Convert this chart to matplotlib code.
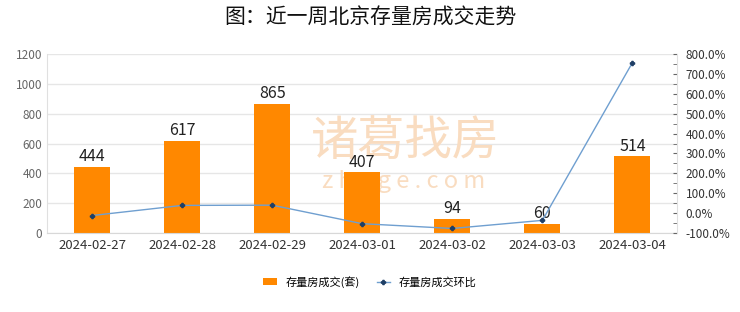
import matplotlib.pyplot as plt
from matplotlib.ticker import FuncFormatter, MultipleLocator

plt.rcParams['font.family'] = ['Noto Sans CJK SC', 'DejaVu Sans']

dates = ['2024-02-27', '2024-02-28', '2024-02-29', '2024-03-01',
         '2024-03-02', '2024-03-03', '2024-03-04']
deals = [444, 617, 865, 407, 94, 60, 514]
# day-on-day change, percent
change = [-12.0, 39.0, 40.2, -52.9, -76.9, -36.2, 756.7]

bar_color = '#ff8800'
line_color = '#6f9fd0'

fig = plt.figure(figsize=(7.4, 3.12), dpi=100)
ax = fig.add_axes([0.0635, 0.253, 0.852, 0.574])
ax2 = ax.twinx()

x = list(range(len(dates)))
ax.bar(x, deals, width=0.4, color=bar_color, zorder=2, label='存量房成交(套)')
for xi, v in zip(x, deals):
    ax.text(xi, v + 12, str(v), ha='center', va='bottom', fontsize=11.5,
            color='#222222', zorder=5)

ax.set_ylim(0, 1200)
ax.set_yticks(range(0, 1201, 200))
ax.set_xlim(-0.5, len(dates) - 0.5)
ax.set_xticks(x)
ax.set_xticklabels(dates, fontsize=9.5, color='#333333')
ax.tick_params(axis='y', labelsize=8.5, labelcolor='#666666', length=0)
ax.tick_params(axis='x', length=0, pad=4)
ax.grid(axis='y', color='#e6e6e6', linewidth=1, zorder=0)
ax.set_axisbelow(True)
for s in ['top', 'right']:
    ax.spines[s].set_visible(False)
ax.spines['left'].set_color('#e0e0e0')
ax.spines['bottom'].set_color('#d8d8d8')

ax2.plot(x, change, color=line_color, linewidth=1, marker='P', markersize=3,
         markerfacecolor='#1f3f66', markeredgecolor='#1f3f66', zorder=4,
         label='存量房成交环比')
ax2.set_ylim(-100, 800)
ax2.yaxis.set_major_locator(MultipleLocator(100))
ax2.yaxis.set_minor_locator(MultipleLocator(50))
ax2.yaxis.set_major_formatter(FuncFormatter(lambda v, p: f'{v:.1f}%'))
ax2.tick_params(axis='y', which='both', direction='in', labelsize=8.5,
                labelcolor='#333333', color='#666666', length=3, pad=6)
for s in ['top', 'left', 'bottom']:
    ax2.spines[s].set_visible(False)
ax2.spines['right'].set_color('#e0e0e0')

# watermark
wm = '#f9dcc0'
ax.text(0.568, 0.51, '诸葛找房', transform=ax.transAxes, ha='center', va='center',
        fontsize=34, color=wm, zorder=1)
ax.text(0.565, 0.29, 'z h u g e . c o m', transform=ax.transAxes, ha='center',
        va='center', fontsize=17, color=wm, zorder=1)

fig.suptitle('图：近一周北京存量房成交走势', fontsize=15, fontweight='medium',
             y=0.98, color='#111111')

h1, l1 = ax.get_legend_handles_labels()
h2, l2 = ax2.get_legend_handles_labels()
fig.legend(h1 + h2, l1 + l2, loc='center', bbox_to_anchor=(0.5, 0.096), ncol=2,
           frameon=False, fontsize=8, handlelength=1.2, handleheight=0.6,
           columnspacing=1.5)

fig.savefig('out.png', dpi=100)
